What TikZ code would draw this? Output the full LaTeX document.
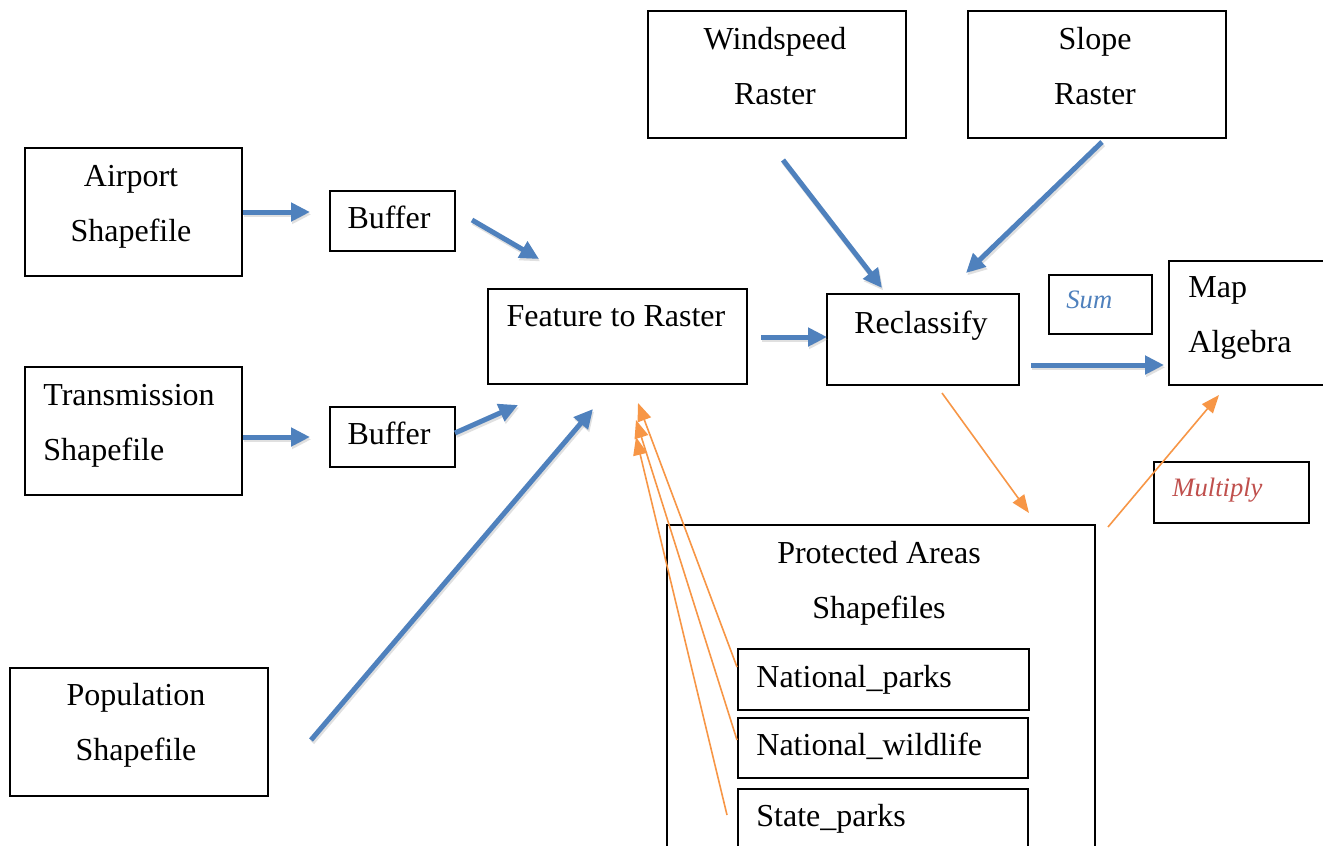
\documentclass[tikz,border=0pt]{standalone}
\usepackage{fontspec}
\setmainfont{Liberation Serif}
\usetikzlibrary{arrows.meta,fit}
\definecolor{wblue}{HTML}{4F81BD}
\definecolor{worange}{HTML}{F79646}
\definecolor{wred}{HTML}{C0504D}
\tikzset{
  box/.style={draw=black, line width=0.65pt, inner sep=0pt, outer sep=0pt},
  txt/.style={inner sep=0pt, font=\fontsize{16}{20}\selectfont},
  itxt/.style={inner sep=0pt, font=\fontsize{13.3}{16}\selectfont\itshape},
  bluearrow/.style={draw=wblue, line width=2.5pt, -{Triangle[length=9.5pt,width=9pt]}},
  blueshadow/.style={draw=black!40, opacity=0.3, line width=2.5pt, -{Triangle[length=9.5pt,width=9pt]}},
  orangearrow/.style={draw=worange, line width=0.8pt, -{Triangle[length=9pt,width=7pt]}}
}
\begin{document}
\begin{tikzpicture}[x=0.5pt,y=-0.5pt]
\useasboundingbox (0,0) rectangle (1323,846);
\clip (0,0) rectangle (1323,846);
\fill[white] (0,0) rectangle (1323,846);

% boxes
\node[box, fit={(25,148) (242,276)}] (airport) {};
\node[box, fit={(25,367) (242,495)}] (trans) {};
\node[box, fit={(10,668) (268,796)}] (pop) {};
\node[box, fit={(330,191) (455,251)}] (buf1) {};
\node[box, fit={(330,407) (455,467)}] (buf2) {};
\node[box, fit={(488,289) (747,384)}] (ftr) {};
\node[box, fit={(648,11) (906,138)}] (wind) {};
\node[box, fit={(968,11) (1226,138)}] (slope) {};
\node[box, fit={(827,294) (1019,385)}] (recl) {};
\node[box, fit={(1049,275) (1152,334)}] (sum) {};
\node[box, fit={(1169,261) (1335,385)}] (mapalg) {};
\node[box, fit={(1154,462) (1309,523)}] (mult) {};
\node[box, fit={(667,525) (1095,870)}] (prot) {};
\node[box, fit={(738,649) (1029,710)}] (np) {};
\node[box, fit={(738,718) (1028,778)}] (nw) {};
\node[box, fit={(738,789) (1028,870)}] (sp) {};

% texts
\node[txt, anchor=base] (t-air1) at (131,186) {Airport};
\node[txt, anchor=base] (t-air2) at (131,241) {Shapefile};
\node[txt, anchor=base west] (t-tr1) at (43,405) {Transmission};
\node[txt, anchor=base west] (t-tr2) at (43,460) {Shapefile};
\node[txt, anchor=base] (t-pop1) at (136,705) {Population};
\node[txt, anchor=base] (t-pop2) at (136,760) {Shapefile};
\node[txt, anchor=base] (t-buf1) at (389,228) {Buffer};
\node[txt, anchor=base] (t-buf2) at (389,444) {Buffer};
\node[txt, anchor=base] (t-ftr) at (616,326) {Feature to Raster};
\node[txt, anchor=base] (t-w1) at (775,49) {Windspeed};
\node[txt, anchor=base] (t-w2) at (775,104) {Raster};
\node[txt, anchor=base] (t-s1) at (1095,49) {Slope};
\node[txt, anchor=base] (t-s2) at (1095,104) {Raster};
\node[txt, anchor=base] (t-rec) at (921,333) {Reclassify};
\node[itxt, text=wblue, anchor=base west] (t-sum) at (1066,308) {Sum};
\node[txt, anchor=base west] (t-map1) at (1188,297) {Map};
\node[txt, anchor=base west] (t-map2) at (1188,352) {Algebra};
\node[itxt, text=wred, anchor=base west] (t-mul) at (1172,496) {Multiply};
\node[txt, anchor=base] (t-pa1) at (879,563) {Protected Areas};
\node[txt, anchor=base] (t-pa2) at (879,618) {Shapefiles};
\node[txt, anchor=base west] (t-np) at (756,687) {National\_parks};
\node[txt, anchor=base west] (t-nw) at (756,755) {National\_wildlife};
\node[txt, anchor=base west] (t-sp) at (756,826) {State\_parks};

% connector end points
\coordinate (a1s) at (243,212); \coordinate (a1e) at (310,212);
\coordinate (a2s) at (243,437); \coordinate (a2e) at (310,437);
\coordinate (a3s) at (472,220); \coordinate (a3e) at (539,259);
\coordinate (a4s) at (455,433); \coordinate (a4e) at (518,405);
\coordinate (a5s) at (311,740); \coordinate (a5e) at (593,409);
\coordinate (a6s) at (761,337); \coordinate (a6e) at (827,337);
\coordinate (a7s) at (783,160); \coordinate (a7e) at (882,288);
\coordinate (a8s) at (1102,142); \coordinate (a8e) at (966,273);
\coordinate (a9s) at (1031,365); \coordinate (a9e) at (1164,365);
\coordinate (o1s) at (942,393); \coordinate (o1e) at (1029,513);
\coordinate (o2s) at (1108,527); \coordinate (o2e) at (1219,395);
\coordinate (o3s) at (737,667); \coordinate (o3e) at (638,403);
\coordinate (o4s) at (737,740); \coordinate (o4e) at (636,420);
\coordinate (o5s) at (727,815); \coordinate (o5e) at (636,437);

% blue connector shadows
\foreach \s/\e in {a1s/a1e,a2s/a2e,a3s/a3e,a4s/a4e,a5s/a5e,a6s/a6e,a7s/a7e,a8s/a8e,a9s/a9e}
  \draw[blueshadow] ([xshift=0.6pt,yshift=-1.2pt]\s) -- ([xshift=0.6pt,yshift=-1.2pt]\e);
% blue connectors
\draw[bluearrow] (a1s) -- (a1e);
\draw[bluearrow] (a2s) -- (a2e);
\draw[bluearrow] (a3s) -- (a3e);
\draw[bluearrow] (a4s) -- (a4e);
\draw[bluearrow] (a5s) -- (a5e);
\draw[bluearrow] (a6s) -- (a6e);
\draw[bluearrow] (a7s) -- (a7e);
\draw[bluearrow] (a8s) -- (a8e);
\draw[bluearrow] (a9s) -- (a9e);

% orange connectors
\draw[orangearrow] (o1s) -- (o1e);
\draw[orangearrow] (o2s) -- (o2e);
\draw[orangearrow] (o3s) -- (o3e);
\draw[orangearrow] (o4s) -- (o4e);
\draw[orangearrow] (o5s) -- (o5e);
\end{tikzpicture}
\end{document}
